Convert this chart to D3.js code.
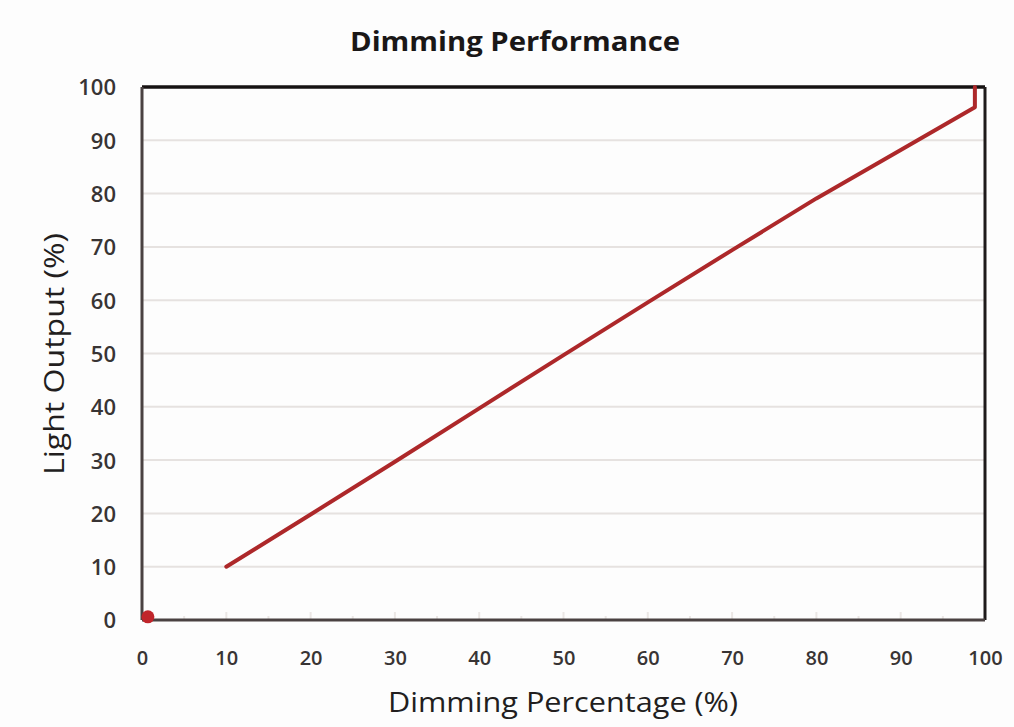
<!DOCTYPE html>
<html>
<head>
<meta charset="utf-8">
<script src="https://cdn.jsdelivr.net/npm/d3@7"></script>
<style>
  body { margin: 0; background: #fdfdfd; }
  text { font-family: "Open Sans", "Noto Sans", sans-serif; }
</style>
</head>
<body>
<div id="canvas"></div>
<script>
// data
const dimming = [10, 20, 30, 40, 50, 60, 70, 80, 90, 98.8, 98.8];
const output = [10, 19.8, 29.7, 39.7, 49.7, 59.6, 69.4, 79.1, 88.2, 96.2, 100];
const offPoint = [0.7, 0.6];
const xTicks = [0, 10, 20, 30, 40, 50, 60, 70, 80, 90, 100];
const yTicks = [0, 10, 20, 30, 40, 50, 60, 70, 80, 90, 100];
const minorTicks = [5, 15, 25, 35, 45, 55, 65, 75, 85, 95];

const dims = { width: 1014, height: 727 };
const margin = { top: 87, right: 29, bottom: 107, left: 142 };
const w = dims.width - margin.left - margin.right;
const h = dims.height - margin.top - margin.bottom;

const svg = d3.select("#canvas")
  .append("svg")
  .attr("width", dims.width)
  .attr("height", dims.height)
  .style("background-color", "#fdfdfd");

const graph = svg.append("g")
  .attr("transform", `translate(${margin.left}, ${margin.top})`);

const xScale = d3.scaleLinear().domain([0, 100]).range([0, w]);
const yScale = d3.scaleLinear().domain([0, 100]).range([h, 0]);

// grid lines
graph.append("g")
  .selectAll("line")
  .data(yTicks.filter(d => d > 0 && d < 100))
  .enter()
  .append("line")
  .attr("x1", 0)
  .attr("x2", w)
  .attr("y1", d => yScale(d))
  .attr("y2", d => yScale(d))
  .attr("stroke", "#e6e2e0")
  .attr("stroke-width", 2);

// faint tick marks at the bottom
graph.append("g")
  .selectAll("line")
  .data(xTicks.filter(d => d > 0 && d < 100).concat(minorTicks))
  .enter()
  .append("line")
  .attr("x1", d => xScale(d))
  .attr("x2", d => xScale(d))
  .attr("y1", h - 1)
  .attr("y2", d => minorTicks.includes(d) ? h - 4 : h - 8)
  .attr("stroke", "#ebe7e5")
  .attr("stroke-width", 2);

// axes
const xAxis = d3.axisBottom(xScale).tickValues(xTicks).tickSize(0).tickPadding(31);
const yAxis = d3.axisLeft(yScale).tickValues(yTicks).tickSize(0).tickPadding(26);

const xAxisGroup = graph.append("g")
  .attr("transform", `translate(0, ${h})`)
  .call(xAxis);
const yAxisGroup = graph.append("g").call(yAxis);

[xAxisGroup, yAxisGroup].forEach(g => {
  g.select(".domain").remove();
  g.selectAll("text")
    .attr("fill", "#383434")
    .style("font-weight", "600");
});
xAxisGroup.selectAll("text").style("font-size", "20px");
yAxisGroup.selectAll("text").style("font-size", "22px").attr("dy", "0.36em");

// frame
graph.append("line")
  .attr("x1", 0).attr("x2", w).attr("y1", 0).attr("y2", 0)
  .attr("stroke", "#161212").attr("stroke-width", 3.5);
graph.append("line")
  .attr("x1", w).attr("x2", w).attr("y1", 0).attr("y2", h)
  .attr("stroke", "#1e1a1a").attr("stroke-width", 3);
graph.append("line")
  .attr("x1", 0).attr("x2", 0).attr("y1", 0).attr("y2", h)
  .attr("stroke", "#4a4242").attr("stroke-width", 3);
graph.append("line")
  .attr("x1", 0).attr("x2", w).attr("y1", h).attr("y2", h)
  .attr("stroke", "#4a4242").attr("stroke-width", 3);

// series line
const series = dimming.map((d, i) => ({ x: d, y: output[i] }));
const lineGen = d3.line()
  .x(d => xScale(d.x))
  .y(d => yScale(d.y));

graph.append("path")
  .datum(series)
  .attr("d", lineGen)
  .attr("fill", "none")
  .attr("stroke", "#ad282a")
  .attr("stroke-width", 4)
  .attr("stroke-linejoin", "round")
  .attr("stroke-linecap", "round");

// off point
graph.append("circle")
  .attr("cx", xScale(offPoint[0]))
  .attr("cy", yScale(offPoint[1]))
  .attr("r", 6.5)
  .attr("fill", "#c0252b");

// titles
svg.append("text")
  .attr("x", 515)
  .attr("y", 51)
  .attr("text-anchor", "middle")
  .attr("fill", "#1a1717")
  .attr("textLength", 330)
  .attr("lengthAdjust", "spacingAndGlyphs")
  .style("font-size", "26px")
  .style("font-weight", "bold")
  .text("Dimming Performance");

svg.append("text")
  .attr("x", 563)
  .attr("y", 712)
  .attr("text-anchor", "middle")
  .attr("fill", "#221e1e")
  .attr("textLength", 350)
  .attr("lengthAdjust", "spacingAndGlyphs")
  .style("font-size", "28px")
  .style("font-weight", "500")
  .text("Dimming Percentage (%)");

svg.append("text")
  .attr("transform", "translate(64, 354) rotate(-90)")
  .attr("text-anchor", "middle")
  .attr("fill", "#221e1e")
  .attr("textLength", 242)
  .attr("lengthAdjust", "spacingAndGlyphs")
  .style("font-size", "28px")
  .style("font-weight", "500")
  .text("Light Output (%)");
</script>
</body>
</html>
